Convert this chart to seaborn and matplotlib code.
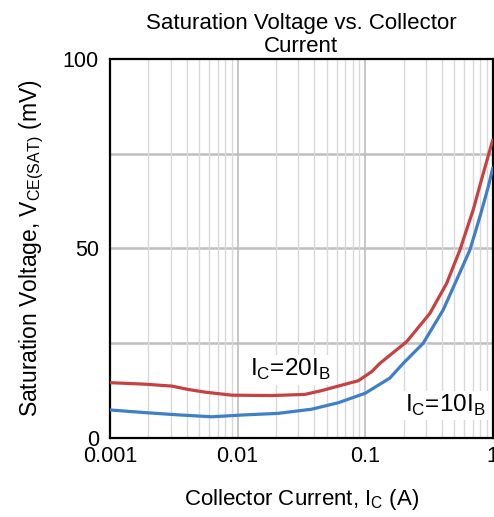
import numpy as np
import pandas as pd
import matplotlib
matplotlib.use("Agg")
import matplotlib.pyplot as plt
import seaborn as sns
from matplotlib.ticker import LogLocator, FixedLocator, NullFormatter, FixedFormatter

# Data
ic_20 = [0.001, 0.00188, 0.00305, 0.00411, 0.00556, 0.0090, 0.0185, 0.0337, 0.0456,
         0.0615, 0.0883, 0.1125, 0.1305, 0.2113, 0.322, 0.4355, 0.553, 0.703, 0.843, 1.0]
vce_20 = [14.6, 14.2, 13.7, 12.8, 12.1, 11.3, 11.2, 11.5, 12.5,
          13.7, 15.1, 17.5, 19.7, 25.4, 32.9, 40.8, 49.6, 60.2, 69.8, 78.6]
ic_10 = [0.001, 0.00188, 0.00343, 0.00627, 0.01143, 0.0208, 0.0381, 0.0615, 0.1,
         0.156, 0.199, 0.285, 0.409, 0.521, 0.662, 0.794, 0.923, 1.0]
vce_10 = [7.4, 6.7, 6.1, 5.6, 6.1, 6.5, 7.6, 9.3, 11.8,
          15.8, 19.7, 25.0, 33.8, 41.7, 49.6, 58.4, 66.3, 71.2]
series_names = ["IC=20IB", "IC=10IB"]
x_ticks = [0.001, 0.01, 0.1, 1]
x_tick_labels = ["0.001", "0.01", "0.1", "1"]
y_ticks = [0, 50, 100]
y_tick_labels = ["0", "50", "100"]
y_grid = [25, 50, 75]

df = pd.concat([
    pd.DataFrame({"Ic": ic_20, "Vce": vce_20, "series": series_names[0]}),
    pd.DataFrame({"Ic": ic_10, "Vce": vce_10, "series": series_names[1]}),
])

sns.set_theme(style="white")
plt.rcParams["font.family"] = ["Liberation Sans", "DejaVu Sans"]
plt.rcParams["mathtext.fontset"] = "custom"
plt.rcParams["mathtext.rm"] = "Liberation Sans"
plt.rcParams["text.color"] = "black"
plt.rcParams["axes.labelcolor"] = "black"
plt.rcParams["axes.titlecolor"] = "black"

fig = plt.figure(figsize=(4.94, 5.17), dpi=100)
ax = fig.add_axes([0.2227, 0.1528, 0.7747, 0.7331])

ax.set_xscale("log")
ax.set_xlim(0.001, 1)
ax.set_ylim(0, 100)

# grids
ax.xaxis.set_major_locator(FixedLocator(x_ticks))
ax.xaxis.set_minor_locator(LogLocator(base=10, subs=np.arange(2, 10)))
ax.xaxis.set_minor_formatter(NullFormatter())
ax.xaxis.set_major_formatter(FixedFormatter(x_tick_labels))
ax.grid(True, which="minor", axis="x", color="#d9d9d9", linewidth=1.0)
ax.grid(True, which="major", axis="x", color="#bdbdbd", linewidth=1.2)
for yv in y_grid:
    ax.axhline(yv, color="#bfbfbf", linewidth=1.8, zorder=0.5)
ax.yaxis.set_major_locator(FixedLocator(y_ticks))
ax.set_yticklabels(y_tick_labels)

sns.lineplot(data=df, x="Ic", y="Vce", hue="series", ax=ax,
             palette={series_names[0]: "#c6413f", series_names[1]: "#3f7fc9"},
             linewidth=2.3, legend=False, zorder=3, sort=False,
             solid_joinstyle="round", solid_capstyle="round")

for s in ax.spines.values():
    s.set_color("black")
    s.set_linewidth(1.6)

ax.tick_params(axis="both", which="both", length=0, labelsize=15.5, colors="black")
ax.tick_params(axis="x", pad=6)
ax.tick_params(axis="y", pad=8)

ax.set_title("Saturation Voltage vs. Collector\nCurrent", fontsize=16, pad=5,
             linespacing=1.1)
ax.set_xlabel(r"Collector Current, I$_{\mathregular{C}}$ (A)", fontsize=16, labelpad=14)
ax.set_ylabel(r"Saturation Voltage, V$_{\mathregular{CE(SAT)}}$ (mV)", fontsize=16.5, labelpad=12)

bbox = dict(facecolor="white", edgecolor="none", pad=1.5)
ax.text(0.0125, 18, r"I$_{\mathregular{C}}$=20I$_{\mathregular{B}}$", fontsize=17.5,
        ha="left", va="center", bbox=bbox, zorder=4)
ax.text(0.205, 8.6, r"I$_{\mathregular{C}}$=10I$_{\mathregular{B}}$", fontsize=17.5,
        ha="left", va="center", bbox=bbox, zorder=4)

fig.savefig("out.png", dpi=100)
